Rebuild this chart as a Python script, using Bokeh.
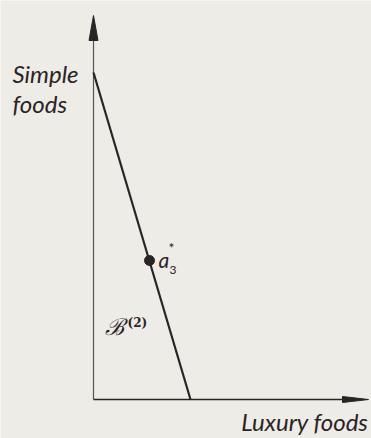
from bokeh.plotting import figure
from bokeh.models import Range1d
from bokeh.core.properties import value
from bokeh.embed import file_html
from bokeh.resources import INLINE

# Budget line between the two goods (units along each axis)
luxury_intercept = [9.7]     # where the budget line meets the luxury-foods axis
simple_intercept = [32.7]    # where the budget line meets the simple-foods axis
axis_extent_x = [27.5]       # length of the luxury-foods axis
axis_extent_y = [38.4]       # length of the simple-foods axis
point_a3 = [5.6, 13.9]       # chosen bundle a3* on the budget line

bg = "#eeece6"
ink = "#2a2427"

p = figure(width=371, height=438, output_backend="svg", toolbar_location=None,
           x_range=Range1d(-9.3, 27.8), y_range=Range1d(-3.9, 39.9),
           min_border=0, outline_line_color=None,
           background_fill_color=bg, border_fill_color=bg)
p.axis.visible = False
p.grid.visible = False

# axes
ax, ay = axis_extent_x[0], axis_extent_y[0]
p.line([0, 0], [0, ay - 2.0], line_color="#5a5456", line_width=1.2)
p.line([0, ax - 2.0], [0, 0], line_color=ink, line_width=1.6)
# long narrow arrowheads
p.patch([-0.45, 0, 0.45], [ay - 2.5, ay, ay - 2.5], color=ink)
p.patch([ax - 2.6, ax, ax - 2.6], [-0.3, 0, 0.3], color=ink)

# budget line
p.line([0, luxury_intercept[0]], [simple_intercept[0], 0], line_color=ink, line_width=2.2)
p.scatter([point_a3[0]], [point_a3[1]], size=10, color=ink)

font = value("Lato")
p.text([-8.1], [32.6], text=["Simple"], text_font=font, text_font_style="italic",
       text_font_size="24px", text_color=ink, text_baseline="middle")
p.text([-8.1], [29.6], text=["foods"], text_font=font, text_font_style="italic",
       text_font_size="24px", text_color=ink, text_baseline="middle")
p.text([27.5], [-2.2], text=["Luxury foods"], text_font=font, text_font_style="italic",
       text_font_size="24px", text_color=ink, text_align="right", text_baseline="middle")

# point label a3*
p.text([6.5], [14.0], text=["a"], text_font=font, text_font_style="italic",
       text_font_size="21px", text_color=ink, text_baseline="middle")
p.text([7.6], [13.0], text=["3"], text_font=font,
       text_font_size="12px", text_color=ink, text_baseline="middle")
p.text([7.5], [15.2], text=["*"], text_font=font,
       text_font_size="14px", text_color=ink, text_baseline="middle")

# region label B(2)
p.text([1.1], [7.3], text=["ℬ"], text_font=value("DejaVu Serif"), text_font_style="italic",
       text_font_size="23px", text_color=ink, text_baseline="middle")
p.text([3.4], [7.7], text=["(2)"], text_font=value("DejaVu Serif"), text_font_style="bold",
       text_font_size="12px", text_color=ink, text_baseline="middle")

open("out.html", "w").write(file_html(p, INLINE))
